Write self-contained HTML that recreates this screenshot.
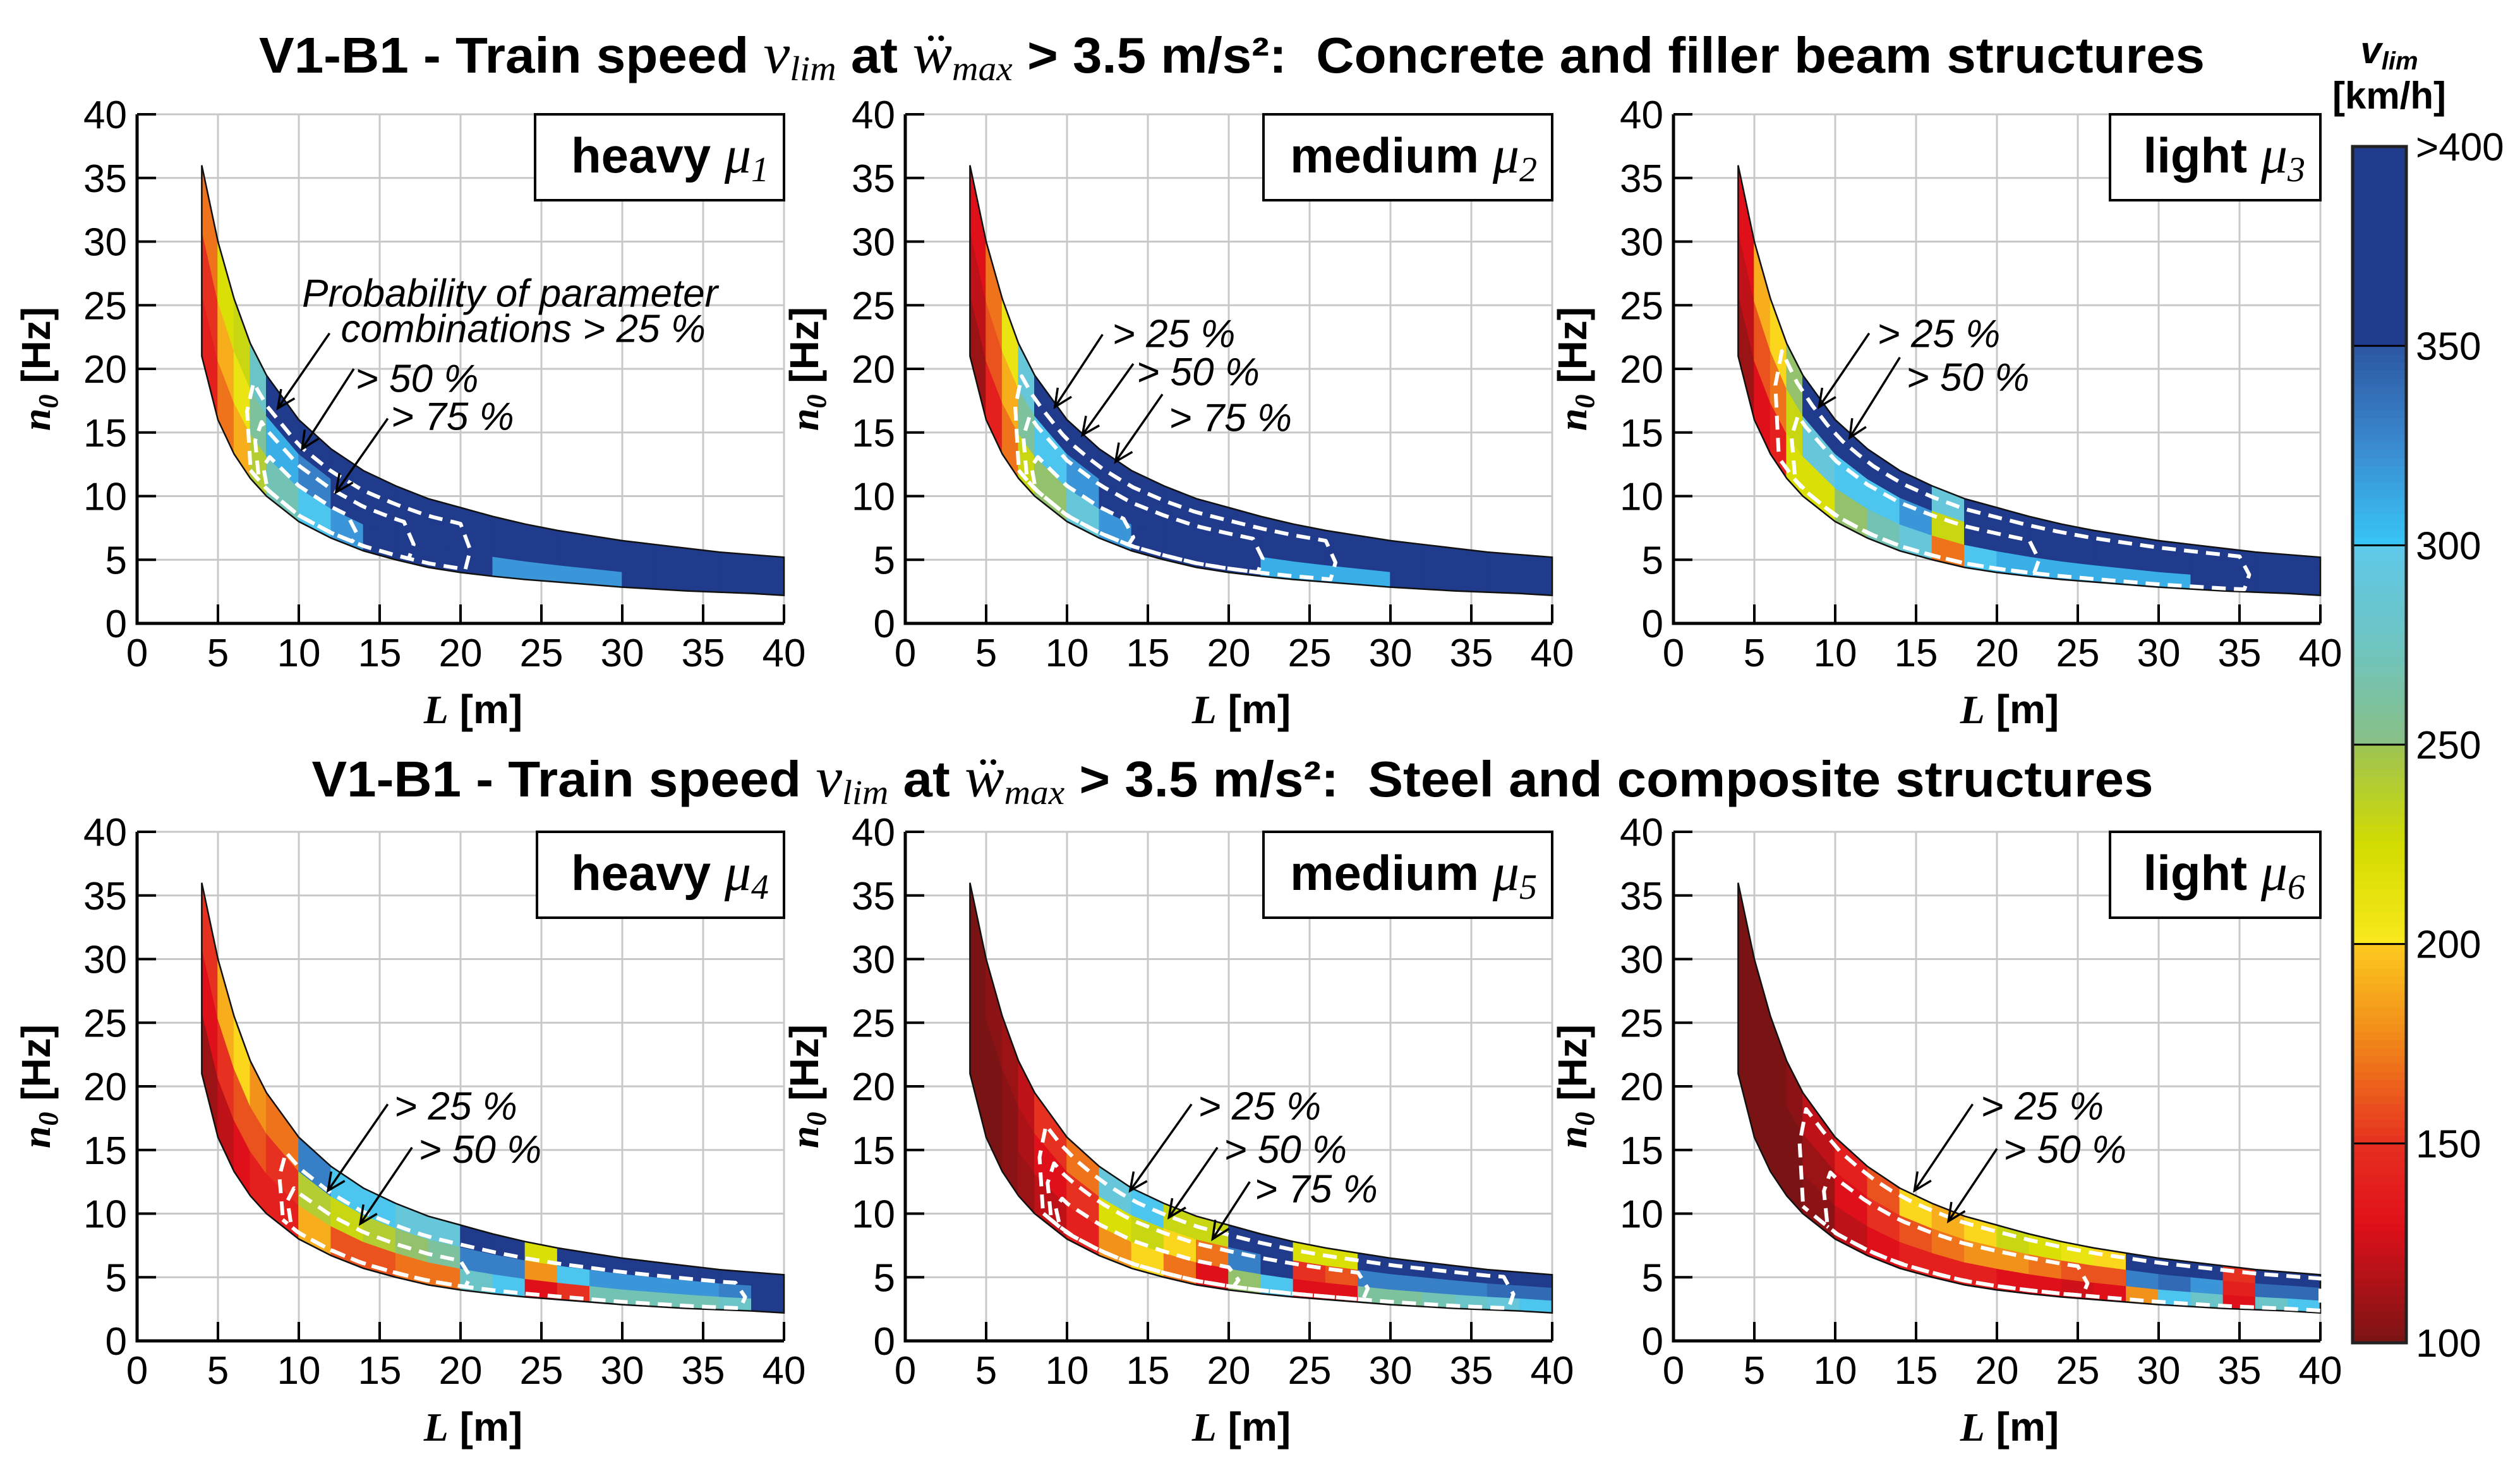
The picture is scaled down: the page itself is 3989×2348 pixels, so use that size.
<!DOCTYPE html>
<html><head><meta charset="utf-8"><style>
html,body{margin:0;padding:0;background:#fff}
svg{display:block}
text{font-family:"Liberation Sans",sans-serif}
</style></head><body>
<svg id="c" width="3989" height="2348" viewBox="0 0 3989 2348" xmlns="http://www.w3.org/2000/svg">
<defs>
<marker id="ah" markerWidth="40" markerHeight="40" refX="30" refY="15" orient="auto" markerUnits="userSpaceOnUse">
<path d="M2,2 L30,15 L2,28" fill="none" stroke="#000" stroke-width="3.5"/>
</marker>
</defs>
<text x="1950" y="115" text-anchor="middle" font-size="80" font-weight="bold" textLength="3080" lengthAdjust="spacingAndGlyphs" xml:space="preserve">V1-B1 - Train speed <tspan font-family="Liberation Serif" font-style="italic" font-weight="normal" font-size="90">v</tspan><tspan font-family="Liberation Serif" font-style="italic" font-weight="normal" font-size="55" dy="12">lim</tspan><tspan dy="-12"> at </tspan><tspan font-family="Liberation Serif" font-style="italic" font-weight="normal" font-size="90">ẅ</tspan><tspan font-family="Liberation Serif" font-style="italic" font-weight="normal" font-size="55" dy="12">max</tspan><tspan dy="-12"> &gt; 3.5 m/s²:  Concrete and filler beam structures</tspan></text>
<text x="1951" y="1261" text-anchor="middle" font-size="80" font-weight="bold" textLength="2915" lengthAdjust="spacingAndGlyphs" xml:space="preserve">V1-B1 - Train speed <tspan font-family="Liberation Serif" font-style="italic" font-weight="normal" font-size="90">v</tspan><tspan font-family="Liberation Serif" font-style="italic" font-weight="normal" font-size="55" dy="12">lim</tspan><tspan dy="-12"> at </tspan><tspan font-family="Liberation Serif" font-style="italic" font-weight="normal" font-size="90">ẅ</tspan><tspan font-family="Liberation Serif" font-style="italic" font-weight="normal" font-size="55" dy="12">max</tspan><tspan dy="-12"> &gt; 3.5 m/s²:  Steel and composite structures</tspan></text>
</svg>
<script>
// ---- data ----
const lEdges = [4,5,6,7,8,10,12,14,16,18,20,22,24,26,28,30,32,34,36,38,40];
const upperN = [36,30,25.5,22,19.5,16,13.7,12,10.8,9.8,9.1,8.4,7.8,7.3,6.9,6.5,6.2,5.9,5.6,5.4,5.2];
const lowerN = [21,16,13.3,11.4,10,8,6.7,5.7,5,4.4,4,3.7,3.45,3.25,3.05,2.85,2.7,2.55,2.45,2.35,2.2];
const xTicks = [0,5,10,15,20,25,30,35,40];
const yTicks = [0,5,10,15,20,25,30,35,40];
const panelNames = ['heavy','medium','light','heavy','medium','light'];
const panelIdx = ['1','2','3','4','5','6'];
// vlim values per column (20 columns), rows: bottom / middle / top of band
const p1Bottom = [140,170,190,240,270,300,320,400,400,400,400,320,320,320,320,400,400,400,400,400];
const p1Mid    = [150,190,210,260,310,330,370,400,400,400,400,400,400,400,400,400,400,400,400,400];
const p1Top    = [170,220,230,280,380,400,400,400,400,400,400,400,400,400,400,400,400,400,400,400];
const p2Bottom = [110,140,170,230,250,290,320,400,400,400,400,310,310,310,310,400,400,400,400,400];
const p2Mid    = [120,160,190,260,300,320,380,400,400,400,400,400,400,400,400,400,400,400,400,400];
const p2Top    = [130,170,210,290,360,400,400,400,400,400,400,400,400,400,400,400,400,400,400,400];
const p3Bottom = [110,130,140,220,220,250,270,290,170,300,310,310,310,310,310,310,400,400,400,400];
const p3Mid    = [120,160,170,230,290,300,300,320,230,400,400,400,400,400,400,400,400,400,400,400];
const p3Top    = [130,190,200,250,360,380,390,400,290,400,400,400,400,400,400,400,400,400,400,400];
const p4Bottom = [110,120,130,140,140,190,160,160,170,170,280,300,130,150,270,270,270,270,280,400];
const p4Mid    = [130,150,160,160,150,240,230,240,250,260,330,330,180,300,320,320,320,320,330,400];
const p4Top    = [150,190,200,180,170,330,300,300,290,290,400,400,220,400,400,400,400,400,400,400];
const p5Bottom = [100,100,105,110,120,140,180,200,170,130,250,300,130,130,260,260,270,280,290,300];
const p5Mid    = [100,100,105,115,130,150,220,230,200,170,330,400,150,160,330,330,330,330,340,340];
const p5Top    = [100,105,110,120,150,170,290,300,230,230,400,400,220,220,400,400,400,400,400,400];
const p6Bottom = [100,100,100,100,105,120,130,140,140,140,130,130,125,130,180,300,280,130,280,300];
const p6Mid    = [100,100,100,100,110,130,150,160,170,180,180,170,160,160,330,340,320,140,340,340];
const p6Top    = [100,100,100,105,120,140,160,200,190,200,230,220,210,200,380,400,380,150,400,400];
const cbTicks = ['100','150','200','250','300','350','>400'];
const cbValues = [100,150,200,250,300,350,400];

const panelRows = [[p1Bottom,p1Mid,p1Top],[p2Bottom,p2Mid,p2Top],[p3Bottom,p3Mid,p3Top],
                   [p4Bottom,p4Mid,p4Top],[p5Bottom,p5Mid,p5Top],[p6Bottom,p6Mid,p6Top]];
// probability loops: [L start, L end, top fraction]
const loops = [
 [[7,20,0.75],[7.5,16.5,0.55],[8,13,0.35]],
 [[7,26,0.8],[7.5,21.5,0.6],[8,13.5,0.35]],
 [[6.5,35,0.85],[7.5,22,0.6]],
 [[9,37,0.7],[9.5,20,0.45]],
 [[8.5,37,0.85],[9,28,0.6],[9.5,20,0.35]],
 [[8,40,0.9],[9.5,25,0.6]]
];
// annotations: [text, L, n, arrowFromL, arrowFromN, arrowToL, arrowToN]
const annots = [
 [['> 50 %',13.5,18.2,13.4,20.0,10.2,13.7],['> 75 %',15.7,15.2,15.5,16.1,12.3,10.3],['',0,0,11.9,22.8,8.7,16.9]],
 [['> 25 %',12.8,21.7,12.2,22.7,9.25,17.0],['> 50 %',14.3,18.7,14.1,20.4,10.95,14.8],['> 75 %',16.3,15.1,15.9,18.0,13.0,12.7]],
 [['> 25 %',12.6,21.7,12.1,22.8,9.0,17.0],['> 50 %',14.4,18.3,14.0,20.9,10.9,14.6]],
 [['> 25 %',15.9,17.4,15.5,18.6,11.8,11.8],['> 50 %',17.4,14.0,17.0,15.2,13.8,9.2]],
 [['> 25 %',18.1,17.4,17.7,18.6,13.9,11.8],['> 50 %',19.7,14.0,19.3,15.2,16.3,9.7],['> 75 %',21.6,10.9,21.3,12.5,19.0,8.0]],
 [['> 25 %',19.0,17.4,18.5,18.6,14.9,11.8],['> 50 %',20.4,14.0,20.0,15.1,17.0,9.4]]
];

// ---- layout ----
const pLeft = [217,1433,2649,217,1433,2649];
const pTop = [181,181,181,1317,1317,1317];
const PW = 1024, PH = 806;
const boxW = [394,457,333,391,457,333];
const NS = 'http://www.w3.org/2000/svg';
const svg = document.getElementById('c');
function mk(tag, attrs, parent){const e=document.createElementNS(NS,tag);for(const k in attrs)e.setAttribute(k,attrs[k]);(parent||svg).appendChild(e);return e;}

const stops = [[100,[122,20,20]],[130,[224,16,26]],[150,[230,48,32]],[175,[240,132,26]],[199,[252,198,30]],[201,[248,232,28]],[225,[210,220,0]],[249,[160,196,80]],[251,[136,192,136]],[275,[110,196,192]],[299,[96,200,232]],[301,[56,196,244]],[325,[58,138,208]],[349,[44,88,164]],[351,[32,58,140]],[400,[32,58,140]]];
function cmap(v){
  v=Math.max(100,Math.min(400,v));
  for(let i=1;i<stops.length;i++){
    if(v<=stops[i][0]){const a=stops[i-1],b=stops[i];const t=(v-a[0])/(b[0]-a[0]||1);
      const c=a[1].map((x,j)=>Math.round(x+(b[1][j]-x)*t));return 'rgb('+c.join(',')+')';}
  }
  return 'rgb(32,58,140)';
}
function bandN(L, f){
  let i=0; while(i<lEdges.length-2 && L>lEdges[i+1]) i++;
  const t=Math.max(0,Math.min(1,(L-lEdges[i])/(lEdges[i+1]-lEdges[i])));
  const lo=lowerN[i]+(lowerN[i+1]-lowerN[i])*t, up=upperN[i]+(upperN[i+1]-upperN[i])*t;
  return lo+(up-lo)*f;
}

for(let p=0;p<6;p++){
  const X0=pLeft[p], Y0=pTop[p];
  const sx=L=>X0+L/40*PW, sy=n=>Y0+PH-n/40*PH;
  const g=mk('g',{});
  
  
  // grid
  xTicks.forEach(t=>{ if(t>0){const l=mk('line',{x1:sx(t),x2:sx(t),y1:Y0,y2:Y0+PH,stroke:'#c8c8c8','stroke-width':3},g);
     }});
  yTicks.forEach(t=>{ if(t>0){const l=mk('line',{x1:X0,x2:X0+PW,y1:sy(t),y2:sy(t),stroke:'#c8c8c8','stroke-width':3},g);
     }});
  // cells
  const rows=panelRows[p];
  for(let c=0;c<lEdges.length-1;c++){
    for(let r=0;r<3;r++){
      const La=lEdges[c], Lb=lEdges[c+1], fa=r/3, fb=(r+1)/3;
      const pts=[[La,fa],[Lb,fa],[Lb,fb],[La,fb]].map(q=>sx(q[0])+','+sy(bandN(q[0],q[1]))).join(' ');
      const col=cmap(rows[r][c]);
      const poly=mk('polygon',{points:pts,fill:col,stroke:col,'stroke-width':1.5},g);
      
      
    }
  }
  // band outline
  let d='M'+sx(lEdges[0])+','+sy(lowerN[0]);
  lEdges.forEach((L,i)=>{d+=' L'+sx(L)+','+sy(lowerN[i]);});
  for(let i=lEdges.length-1;i>=0;i--) d+=' L'+sx(lEdges[i])+','+sy(upperN[i]);
  d+=' Z';
  const ol=mk('path',{d:d,fill:'none',stroke:'#111','stroke-width':2.5},g);
   
  // loops
  loops[p].forEach(lp=>{
    const [Ls,Le,ft]=lp; let pts=[];
    pts.push([Ls,0.1]); pts.push([Ls-0.2,ft*0.6]); pts.push([Ls+0.2,ft]);
    for(let k=1;k<=30;k++){const L=Ls+0.2+(Le-Ls-0.2)*k/30; pts.push([L,ft]);}
    pts.push([Math.min(40,Le+0.6),ft*0.5]); pts.push([Math.min(40,Le+0.3),0.06]);
    for(let k=1;k<=30;k++){const L=Le+0.3-(Le+0.3-Ls)*k/30; pts.push([L,0.06]);}
    const dd='M'+pts.map(q=>sx(q[0]).toFixed(1)+','+sy(bandN(q[0],q[1])).toFixed(1)).join(' L');
    const lpEl=mk('path',{d:dd,fill:'none',stroke:'#fff','stroke-width':6,'stroke-dasharray':'22 13','stroke-linejoin':'round'},g);
     
  });
  // axes
  const ax=mk('path',{d:'M'+X0+','+Y0+' L'+X0+','+(Y0+PH)+' L'+(X0+PW)+','+(Y0+PH),fill:'none',stroke:'#000','stroke-width':5},g);
   
  xTicks.forEach(t=>{
    const tk=mk('line',{x1:sx(t),x2:sx(t),y1:Y0+PH,y2:Y0+PH-30,stroke:'#000','stroke-width':4},g);
     
    const tl=mk('text',{x:sx(t),y:Y0+PH+68,'text-anchor':'middle','font-size':62},g); tl.textContent=t;
     
  });
  yTicks.forEach(t=>{
    const tk=mk('line',{x1:X0,x2:X0+30,y1:sy(t),y2:sy(t),stroke:'#000','stroke-width':4},g);
     
    const tl=mk('text',{x:X0-16,y:sy(t)+22,'text-anchor':'end','font-size':62},g); tl.textContent=t;
     
  });
  // axis titles
  const xt=mk('text',{x:X0+PW/2+20,y:Y0+PH+158,'text-anchor':'middle','font-size':64,'font-weight':'bold'},g);
  xt.innerHTML='<tspan font-family="Liberation Serif" font-style="italic">L</tspan> [m]';
   
  const yx=X0-138, yy=Y0+PH*0.5;
  const yt=mk('text',{x:yx,y:yy,'text-anchor':'middle','font-size':64,'font-weight':'bold',transform:'rotate(-90 '+yx+' '+yy+')'},g);
  yt.innerHTML='<tspan font-family="Liberation Serif" font-style="italic">n</tspan><tspan font-family="Liberation Serif" font-style="italic" font-size="44" dy="12">0</tspan><tspan dy="-12"> [Hz]</tspan>';
   
  // legend box
  const bx=X0+PW-boxW[p];
  const br=mk('rect',{x:bx,y:Y0,width:boxW[p],height:136,fill:'#fff',stroke:'#000','stroke-width':4},g);
   
  const bt=mk('text',{x:X0+PW-24,y:Y0+92,'text-anchor':'end','font-size':78,'font-weight':'bold'},g);
  bt.innerHTML=panelNames[p]+' <tspan font-family="Liberation Serif" font-style="italic" font-weight="normal" font-size="84">μ</tspan><tspan font-family="Liberation Serif" font-style="italic" font-weight="normal" font-size="56" dy="14">'+panelIdx[p]+'</tspan>';
   
  // annotations
  annots[p].forEach(a=>{
    const ar=mk('line',{x1:sx(a[3]),y1:sy(a[4]),x2:sx(a[5]),y2:sy(a[6]),stroke:'#000','stroke-width':3.5,'marker-end':'url(#ah)'},g);
     
    if(a[0]){const tx=mk('text',{x:sx(a[1]),y:sy(a[2]),'font-size':62,'font-style':'italic'},g); tx.textContent=a[0];
       }
  });
  if(p===0){
    const t1=mk('text',{x:sx(10.2),y:sy(24.9),'font-size':62,'font-style':'italic'},g); t1.textContent='Probability of parameter';
     
    const t2=mk('text',{x:sx(12.6),y:sy(22.1),'font-size':62,'font-style':'italic'},g); t2.textContent='combinations > 25 %';
     
  }
}

// ---- colorbar ----
const CBX=3724, CBW=85, CBT=232, CBB=2126;
const cy=v=>CBB-(v-100)/300*(CBB-CBT);
const cb=mk('g',{});
 
for(let v=100; v<400; v+=2){
  const r=mk('rect',{x:CBX,y:cy(v+2),width:CBW,height:cy(v)-cy(v+2)+0.8,fill:cmap(v+1)},cb);
   
}
cbValues.forEach((v,i)=>{
  if(i>0 && i<cbValues.length-1){const l=mk('line',{x1:CBX,x2:CBX+CBW,y1:cy(v),y2:cy(v),stroke:'#000','stroke-width':3},cb);
     }
  const t=mk('text',{x:CBX+100,y:cy(v)+22,'font-size':62},cb); t.textContent=cbTicks[i];
   
});
const cbo=mk('rect',{x:CBX,y:CBT,width:CBW,height:CBB-CBT,fill:'none',stroke:'#222','stroke-width':5},cb);
 
const h1=mk('text',{x:3782,y:100,'text-anchor':'middle','font-size':60,'font-family':'Liberation Serif','font-style':'italic','font-weight':'bold'},cb);
h1.innerHTML='v<tspan font-size="40" dy="10">lim</tspan>';
 
const h2=mk('text',{x:3782,y:172,'text-anchor':'middle','font-size':60,'font-weight':'bold'},cb);
h2.textContent='[km/h]';
 
</script>
</body></html>
